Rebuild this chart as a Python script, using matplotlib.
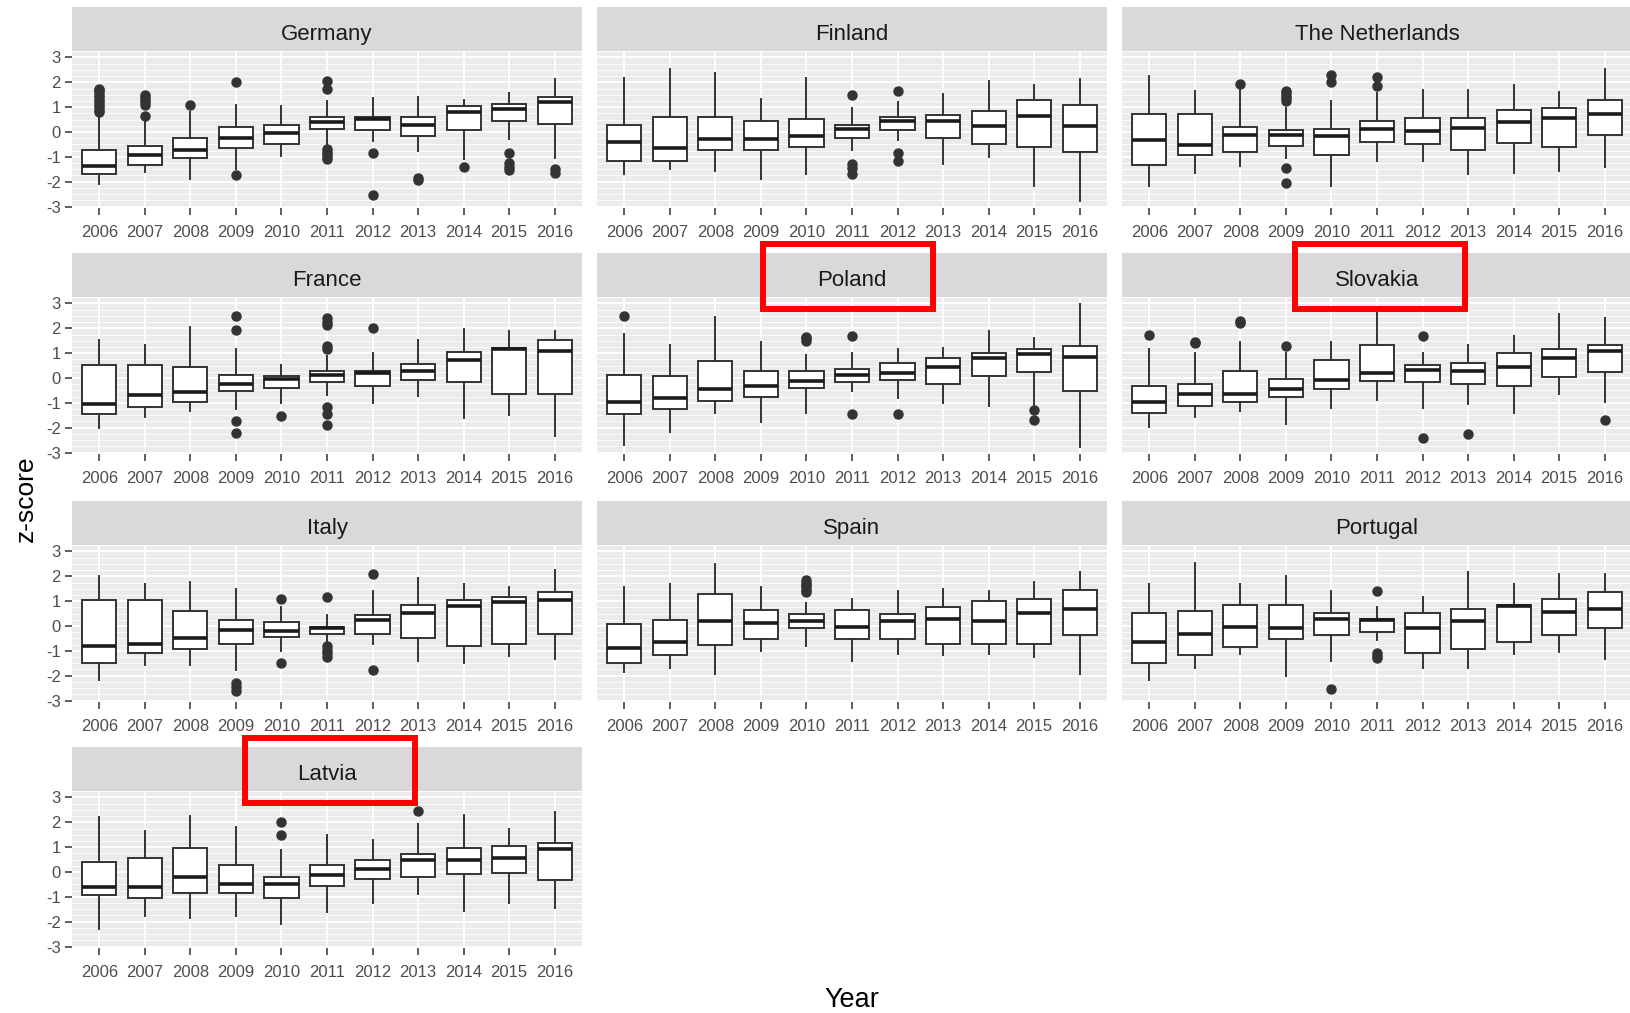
import matplotlib
matplotlib.use("Agg")
import matplotlib.pyplot as plt
from matplotlib.patches import Rectangle
from matplotlib.ticker import MultipleLocator

plt.rcParams['font.family'] = ['Liberation Sans', 'DejaVu Sans']
plt.rcParams['axes.unicode_minus'] = False

YEARS = ['2006', '2007', '2008', '2009', '2010', '2011', '2012', '2013', '2014', '2015', '2016']

# z-score box stats per country (whisker low, q1, median, q3, whisker high)
de_lo = [-2.09, -1.62, -1.89, -1.5, -0.95, -0.55, -0.35, -0.75, -1.1, -0.3, -1.05]
de_q1 = [-1.68, -1.31, -1.04, -0.63, -0.47, 0.13, 0.07, -0.16, 0.07, 0.43, 0.31]
de_med = [-1.37, -0.94, -0.74, -0.25, -0.04, 0.4, 0.54, 0.27, 0.8, 0.94, 1.19]
de_q3 = [-0.71, -0.57, -0.23, 0.2, 0.27, 0.6, 0.6, 0.6, 1.05, 1.12, 1.39]
de_hi = [0.55, 0.45, 0.8, 1.1, 1.05, 1.25, 1.35, 1.4, 1.3, 1.55, 2.15]
de_out = [[0.8, 0.9, 1.0, 1.1, 1.2, 1.3, 1.4, 1.5, 1.6, 1.7, 1.75],
          [0.65, 1.1, 1.2, 1.3, 1.4, 1.5], [1.1], [2.0, -1.75], [],
          [1.75, 2.05, -0.7, -0.8, -0.9, -1.0, -1.1], [-0.85, -2.55],
          [-1.85, -1.95], [-1.4], [-0.85, -1.25, -1.4, -1.55], [-1.5, -1.65]]

fi_lo = [-1.71, -1.48, -1.58, -1.89, -1.71, -0.74, -0.31, -1.28, -1.01, -2.16, -2.76]
fi_q1 = [-1.17, -1.17, -0.71, -0.71, -0.61, -0.24, 0.07, -0.24, -0.5, -0.61, -0.81]
fi_med = [-0.4, -0.65, -0.27, -0.27, -0.18, 0.13, 0.43, 0.44, 0.24, 0.63, 0.24]
fi_q3 = [0.3, 0.61, 0.61, 0.44, 0.54, 0.3, 0.61, 0.67, 0.84, 1.28, 1.08]
fi_hi = [2.16, 2.53, 2.39, 1.32, 2.16, 0.98, 1.21, 1.52, 2.06, 1.89, 2.13]
fi_out = [[], [], [], [], [], [1.5, -1.3, -1.45, -1.7], [1.65, -0.85, -1.15], [], [], [], []]

nl_lo = [-2.16, -1.64, -1.37, -1.04, -2.16, -1.17, -1.17, -1.71, -1.64, -1.58, -1.39]
nl_q1 = [-1.32, -0.94, -0.81, -0.57, -0.94, -0.4, -0.5, -0.71, -0.43, -0.61, -0.11]
nl_med = [-0.34, -0.51, -0.11, -0.13, -0.18, 0.13, 0.04, 0.18, 0.4, 0.57, 0.71]
nl_q3 = [0.74, 0.74, 0.2, 0.07, 0.13, 0.44, 0.58, 0.58, 0.9, 0.97, 1.28]
nl_hi = [2.25, 1.66, 1.75, 0.98, 1.25, 1.58, 1.68, 1.68, 1.89, 1.62, 2.52]
nl_out = [[], [], [1.95], [1.25, 1.35, 1.45, 1.55, 1.65, -1.45, -2.05], [2.0, 2.3],
          [1.85, 2.2], [], [], [], [], []]

fr_lo = [-2.0, -1.58, -1.32, -1.24, -1.01, -0.68, -1.01, -0.72, -1.62, -1.49, -2.32]
fr_q1 = [-1.46, -1.18, -0.95, -0.54, -0.4, -0.16, -0.34, -0.07, -0.16, -0.64, -0.64]
fr_med = [-1.04, -0.68, -0.57, -0.24, -0.04, 0.11, 0.2, 0.27, 0.74, 1.15, 1.08]
fr_q3 = [0.51, 0.51, 0.43, 0.14, 0.07, 0.3, 0.27, 0.58, 1.05, 1.19, 1.53]
fr_hi = [1.53, 1.31, 2.05, 1.15, 0.54, 0.88, 1.01, 1.51, 1.96, 1.89, 1.89]
fr_out = [[], [], [], [2.5, 1.95, -1.75, -2.2], [-1.55],
          [2.4, 2.25, 2.15, 1.3, 1.15, -1.15, -1.45, -1.9], [2.0], [], [], [], []]

pl_lo = [-2.7, -2.16, -1.42, -1.78, -1.42, -0.54, -0.81, -1.01, -1.11, -1.08, -2.77]
pl_q1 = [-1.46, -1.24, -0.92, -0.78, -0.4, -0.16, -0.09, -0.24, 0.07, 0.23, -0.54]
pl_med = [-0.95, -0.81, -0.43, -0.34, -0.11, 0.14, 0.2, 0.43, 0.81, 0.95, 0.85]
pl_q3 = [0.14, 0.07, 0.68, 0.3, 0.3, 0.38, 0.61, 0.81, 0.99, 1.15, 1.28]
pl_hi = [1.76, 1.31, 2.46, 1.46, 0.92, 0.99, 1.15, 1.22, 1.89, 1.59, 2.97]
pl_out = [[2.5], [], [], [], [1.5, 1.6, 1.65], [1.68, -1.45], [-1.46], [], [], [-1.3, -1.7], []]

sk_lo = [-1.96, -1.58, -1.32, -1.86, -1.19, -0.88, -1.19, -1.04, -1.42, -0.65, -0.95]
sk_q1 = [-1.39, -1.11, -0.95, -0.78, -0.43, -0.11, -0.16, -0.24, -0.34, 0.04, 0.23]
sk_med = [-0.95, -0.64, -0.64, -0.43, -0.07, 0.2, 0.31, 0.27, 0.43, 0.81, 1.08]
sk_q3 = [-0.31, -0.24, 0.3, -0.03, 0.74, 1.31, 0.51, 0.61, 0.99, 1.15, 1.31]
sk_hi = [1.15, 1.01, 1.46, 1.01, 1.46, 2.68, 0.99, 1.31, 1.69, 2.59, 2.43]
sk_out = [[1.75], [1.4, 1.45], [2.2, 2.3], [1.3], [], [], [1.7, -2.4], [-2.25], [], [], [-1.7]]

it_lo = [-2.17, -1.56, -1.56, -1.79, -1.02, -0.68, -0.72, -1.42, -1.49, -1.19, -1.33]
it_q1 = [-1.47, -1.09, -0.92, -0.71, -0.43, -0.34, -0.31, -0.47, -0.79, -0.71, -0.31]
it_med = [-0.79, -0.72, -0.47, -0.18, -0.2, -0.1, 0.23, 0.52, 0.81, 0.95, 1.04]
it_q3 = [1.06, 1.06, 0.61, 0.23, 0.16, -0.03, 0.45, 0.84, 1.06, 1.15, 1.38]
it_hi = [2.0, 1.7, 1.79, 1.47, 0.75, 0.45, 1.4, 1.94, 1.67, 1.56, 2.24]
it_out = [[], [], [], [-2.3, -2.45, -2.6], [1.07, -1.5], [1.15, -0.8, -0.95, -1.1, -1.25],
          [2.1, -1.78], [], [], [], []]

es_lo = [-1.87, -1.7, -1.94, -1.02, -0.81, -1.42, -1.11, -1.18, -1.11, -1.25, -1.94]
es_q1 = [-1.47, -1.15, -0.77, -0.54, -0.07, -0.54, -0.54, -0.71, -0.71, -0.71, -0.37]
es_med = [-0.88, -0.65, 0.2, 0.14, 0.2, -0.04, 0.2, 0.3, 0.2, 0.52, 0.68]
es_q3 = [0.07, 0.24, 1.29, 0.64, 0.47, 0.64, 0.47, 0.77, 0.99, 1.09, 1.45]
es_hi = [1.56, 1.7, 2.48, 1.56, 0.92, 1.09, 1.4, 1.47, 1.4, 1.79, 2.17]
es_out = [[], [], [], [], [1.35, 1.45, 1.55, 1.65, 1.75, 1.85], [], [], [], [], [], []]

pt_lo = [-2.17, -1.7, -1.11, -2.0, -1.42, -0.55, -1.7, -1.7, -1.11, -1.04, -1.33]
pt_q1 = [-1.49, -1.15, -0.84, -0.54, -0.37, -0.24, -1.09, -0.92, -0.64, -0.38, -0.07]
pt_med = [-0.65, -0.34, -0.04, -0.1, 0.3, 0.23, -0.1, 0.2, 0.79, 0.58, 0.68]
pt_q3 = [0.52, 0.61, 0.84, 0.84, 0.52, 0.3, 0.52, 0.68, 0.84, 1.09, 1.38]
pt_hi = [1.7, 2.55, 1.7, 2.0, 1.4, 0.77, 1.15, 2.17, 1.7, 2.08, 2.08]
pt_out = [[], [], [], [], [-2.55], [1.4, -1.1, -1.2, -1.3], [], [], [], [], []]

lv_lo = [-2.3, -1.79, -1.86, -1.79, -2.1, -1.63, -1.26, -0.9, -1.56, -1.26, -1.43]
lv_q1 = [-0.94, -1.03, -0.86, -0.86, -1.03, -0.56, -0.27, -0.19, -0.09, -0.03, -0.33]
lv_med = [-0.59, -0.59, -0.2, -0.49, -0.49, -0.13, 0.11, 0.48, 0.48, 0.55, 0.91]
lv_q3 = [0.41, 0.57, 0.95, 0.28, -0.19, 0.28, 0.48, 0.74, 0.95, 1.04, 1.18]
lv_hi = [2.2, 1.64, 2.25, 1.8, 0.88, 1.48, 1.27, 1.94, 2.31, 1.74, 2.41]
lv_out = [[], [], [], [], [2.0, 1.47], [], [], [2.45], [], [], []]

countries = [
    ("Germany", de_lo, de_q1, de_med, de_q3, de_hi, de_out),
    ("Finland", fi_lo, fi_q1, fi_med, fi_q3, fi_hi, fi_out),
    ("The Netherlands", nl_lo, nl_q1, nl_med, nl_q3, nl_hi, nl_out),
    ("France", fr_lo, fr_q1, fr_med, fr_q3, fr_hi, fr_out),
    ("Poland", pl_lo, pl_q1, pl_med, pl_q3, pl_hi, pl_out),
    ("Slovakia", sk_lo, sk_q1, sk_med, sk_q3, sk_hi, sk_out),
    ("Italy", it_lo, it_q1, it_med, it_q3, it_hi, it_out),
    ("Spain", es_lo, es_q1, es_med, es_q3, es_hi, es_out),
    ("Portugal", pt_lo, pt_q1, pt_med, pt_q3, pt_hi, pt_out),
    ("Latvia", lv_lo, lv_q1, lv_med, lv_q3, lv_hi, lv_out),
]
# red boxes drawn by hand around some strip labels (x nudge in px)
highlighted = {"Poland": -4, "Slovakia": 3, "Latvia": 3}

# layout in pixels of the 1630x1013 picture
W, H = 1630, 1013
col_x = [72, 597, 1122]
row_top = [51, 297, 545, 791]
pw, ph, sh = 510, 157, 44


def fig_rect(x, y, w, h):
    return [x / W, 1 - (y + h) / H, w / W, h / H]


fig = plt.figure(figsize=(W / 100, H / 100), dpi=100)

for i, (name, lo, q1, med, q3, hi, out) in enumerate(countries):
    r, c = divmod(i, 3)
    ax = fig.add_axes(fig_rect(col_x[c], row_top[r], pw, ph))
    stats = []
    for k in range(len(YEARS)):
        stats.append({'whislo': lo[k], 'q1': q1[k], 'med': med[k], 'q3': q3[k],
                      'whishi': hi[k], 'fliers': out[k], 'label': YEARS[k]})
    ax.bxp(stats, positions=range(1, len(YEARS) + 1), widths=0.75, patch_artist=True,
           showcaps=False,
           boxprops=dict(facecolor='white', edgecolor='#333333', linewidth=1.4),
           medianprops=dict(color='#1a1a1a', linewidth=2.6),
           whiskerprops=dict(color='#333333', linewidth=1.4),
           flierprops=dict(marker='o', markerfacecolor='#333333', markeredgecolor='#333333',
                           markersize=6.5))
    ax.set_xlim(0.4, len(YEARS) + 0.6)
    ax.set_ylim(-3.06, 3.26)
    ax.set_facecolor('#EBEBEB')
    for s in ax.spines.values():
        s.set_visible(False)
    ax.set_yticks(range(-3, 4))
    ax.yaxis.set_minor_locator(MultipleLocator(0.25))
    ax.set_axisbelow(True)
    ax.grid(which='major', color='white', linewidth=1.3)
    ax.grid(which='minor', axis='y', color='white', linewidth=0.7, alpha=0.85)
    ax.tick_params(which='major', length=5, width=1.1, color='#333333',
                   labelsize=12, labelcolor='#4D4D4D', pad=3)
    ax.tick_params(axis='x', pad=7)
    ax.tick_params(which='minor', length=0)
    if c != 0:
        ax.tick_params(axis='y', left=False, labelleft=False)

    # facet strip
    sx, sy = col_x[c], row_top[r] - sh
    strip = fig.add_axes(fig_rect(sx, sy, pw, sh))
    strip.set_facecolor('#D9D9D9')
    strip.set_xticks([])
    strip.set_yticks([])
    for s in strip.spines.values():
        s.set_visible(False)
    strip.text(0.5, 0.24, name, ha='center', va='baseline', fontsize=16, color='#1A1A1A',
               transform=strip.transAxes)

    if name in highlighted:
        bx = sx + pw / 2 - 85 + highlighted[name]
        bh = sh + 21
        box = Rectangle(fig_rect(bx, sy - 9, 170, bh)[:2], 170 / W, bh / H,
                        transform=fig.transFigure, fill=False, edgecolor='#FF0000',
                        linewidth=4.3, zorder=10)
        fig.add_artist(box)

fig.text(26 / W, 1 - 499 / H, 'z-score', rotation=90, fontsize=19, ha='center', va='center')
fig.text(852 / W, 1 - 1000 / H, 'Year', fontsize=19.5, ha='center', va='center')

fig.savefig('out.png', dpi=100)
